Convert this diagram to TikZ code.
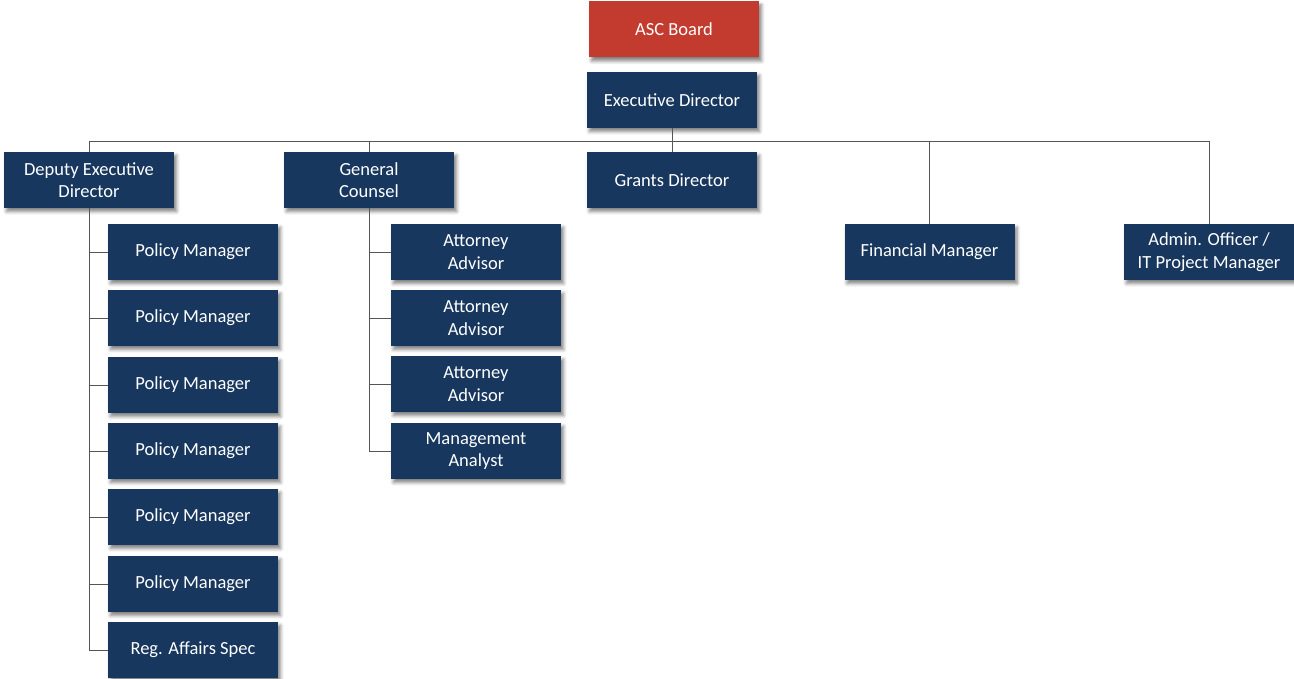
\documentclass[tikz,border=0pt]{standalone}
\usepackage{fontspec}
\setmainfont{Carlito}
\usetikzlibrary{shadows.blur}
\definecolor{navy}{HTML}{17375E}
\definecolor{boardred}{HTML}{C23B2E}
\definecolor{linegray}{HTML}{555555}
\begin{document}
\begin{tikzpicture}[x=1pt,y=-1pt,
  box/.style={fill=navy,text=white,minimum width=170pt,minimum height=56pt,inner sep=0pt,
    align=center,font=\fontsize{18.5}{22.5}\selectfont,
    blur shadow={shadow xshift=2.5pt,shadow yshift=-3.5pt,shadow blur steps=6,shadow blur radius=3.5pt,shadow opacity=50}},
  redbox/.style={box,fill=boardred},
  conn/.style={draw=linegray,line width=0.9pt}]
\useasboundingbox (0,0) rectangle (1294,679);
\node[redbox] (asc) at (674,29.5) {ASC Board};
\node[box] (ed) at (672,100) {Executive Director};
\node[box] (ded) at (89,180) {Deputy Executive\\Director};
\node[box] (gc) at (369,180) {General\\Counsel};
\node[box] (gd) at (672,180) {Grants Director};
\node[box] (fm) at (929.5,252) {Financial Manager};
\node[box] (ao) at (1209,252) {Admin. Officer /\\IT Project Manager};
\node[box] (pm1) at (193,252) {Policy Manager};
\node[box] (pm2) at (193,318) {Policy Manager};
\node[box] (pm3) at (193,385) {Policy Manager};
\node[box] (pm4) at (193,451) {Policy Manager};
\node[box] (pm5) at (193,517) {Policy Manager};
\node[box] (pm6) at (193,584) {Policy Manager};
\node[box] (ras) at (193,650) {Reg. Affairs Spec};
\node[box] (aa1) at (476,252) {Attorney\\Advisor};
\node[box] (aa2) at (476,318) {Attorney\\Advisor};
\node[box] (aa3) at (476,384) {Attorney\\Advisor};
\node[box] (ma) at (476,451) {Management\\Analyst};
\coordinate (bus) at (672,141);
\draw[conn] (ed.south) -- (gd.north);
\draw[conn] (ded.north) -- (ded.north |- bus) -- (ao.north |- bus) -- (ao.north);
\draw[conn] (gc.north) -- (gc.north |- bus);
\draw[conn] (fm.north) -- (fm.north |- bus);
\draw[conn] (ded.south) -- (ded.south |- ras.west) -- (ras.west);
\foreach \n in {pm1,pm2,pm3,pm4,pm5,pm6} \draw[conn] (ded.south |- \n.west) -- (\n.west);
\draw[conn] (gc.south) -- (gc.south |- ma.west) -- (ma.west);
\foreach \n in {aa1,aa2,aa3} \draw[conn] (gc.south |- \n.west) -- (\n.west);
\end{tikzpicture}
\end{document}
